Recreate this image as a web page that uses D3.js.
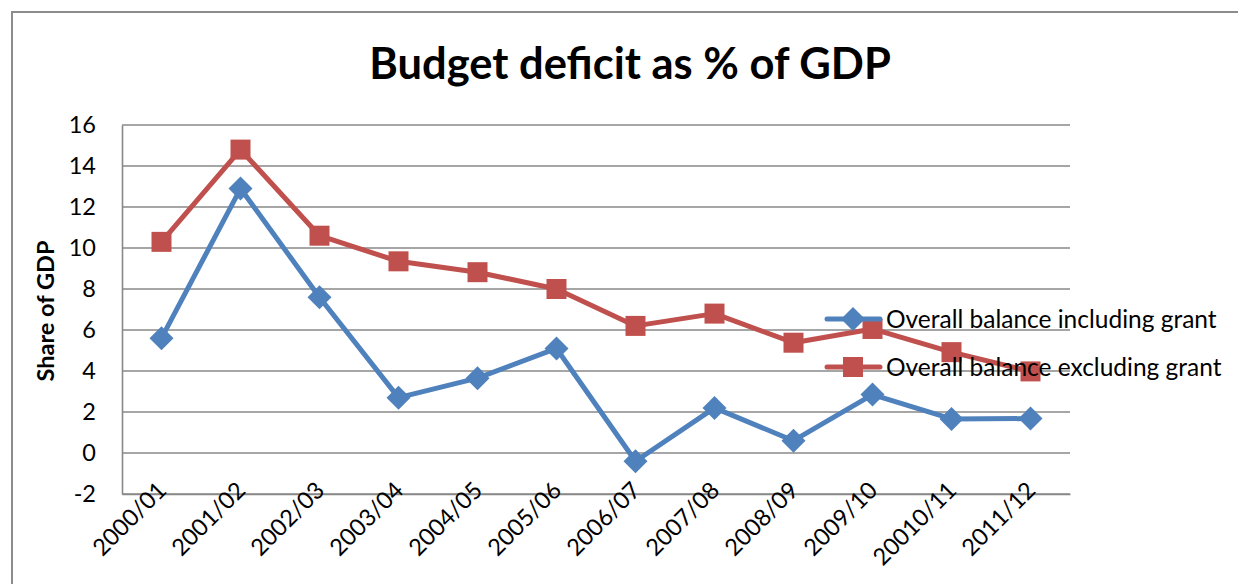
<!DOCTYPE html>
<html>
<head>
<meta charset="utf-8">
<script src="https://cdn.jsdelivr.net/npm/d3@7"></script>
<style>
  html, body { margin: 0; padding: 0; background: #fff; }
  svg { display: block; font-family: Lato, "Open Sans", sans-serif; }
</style>
</head>
<body>
<svg id="chart" width="1238" height="584"></svg>
<script>
const categories = ["2000/01","2001/02","2002/03","2003/04","2004/05","2005/06","2006/07","2007/08","2008/09","2009/10","20010/11","2011/12"];
const includingGrant = [5.6, 12.9, 7.6, 2.7, 3.65, 5.1, -0.4, 2.2, 0.6, 2.85, 1.66, 1.68];
const excludingGrant = [10.3, 14.8, 10.6, 9.35, 8.82, 8.0, 6.2, 6.8, 5.38, 6.05, 4.92, 3.98];
const yTicks = [-2, 0, 2, 4, 6, 8, 10, 12, 14, 16];
const seriesNames = ["Overall balance including grant", "Overall balance excluding grant"];
const title = "Budget deficit as % of GDP";
const yTitle = "Share of GDP";

const blue = "#4F81BD", red = "#C0504D", grid = "#888888";
const svg = d3.select("#chart");

// outer chart border
svg.append("rect").attr("x", 12).attr("y", 12).attr("width", 1300).attr("height", 700)
  .attr("fill", "none").attr("stroke", "#8c8c8c").attr("stroke-width", 2);

const plot = {left: 122, right: 1070, top: 125, bottom: 494};
const x = d3.scalePoint().domain(categories).range([plot.left, plot.right]).padding(0.5);
const y = d3.scaleLinear().domain([-2, 16]).range([plot.bottom, plot.top]);

// gridlines
svg.append("g").selectAll("line").data(yTicks).join("line")
  .attr("x1", plot.left).attr("x2", plot.right)
  .attr("y1", d => y(d)).attr("y2", d => y(d))
  .attr("stroke", grid).attr("stroke-width", 1.6);

// y axis
const yAxis = d3.axisLeft(y).tickValues(yTicks).tickSize(0).tickPadding(26).tickFormat(d => String(d));
const gy = svg.append("g").attr("transform", `translate(${plot.left},0)`).call(yAxis);
gy.select(".domain").attr("stroke", grid).attr("stroke-width", 1.6);
gy.selectAll("text").attr("font-size", 23.5).attr("fill", "#000").attr("font-family", "Lato");

// x axis labels
const xAxis = d3.axisBottom(x).tickSize(0).tickFormat(d => d);
const gx = svg.append("g").attr("transform", `translate(0,${plot.bottom})`).call(xAxis);
gx.select(".domain").attr("stroke", grid).attr("stroke-width", 1.6);
gx.selectAll("text")
  .attr("font-size", 23.5).attr("fill", "#000").attr("font-family", "Lato")
  .attr("text-anchor", "end")
  .attr("dy", "0.35em").attr("y", 0)
  .attr("transform", "translate(0,-8) rotate(-45)");

// lines
const line = d3.line().x((d, i) => x(categories[i])).y(d => y(d));
svg.append("path").datum(excludingGrant).attr("d", line)
  .attr("fill", "none").attr("stroke", red).attr("stroke-width", 5).attr("stroke-linejoin", "round");
svg.append("path").datum(includingGrant).attr("d", line)
  .attr("fill", "none").attr("stroke", blue).attr("stroke-width", 5).attr("stroke-linejoin", "round");

// markers
svg.append("g").selectAll("rect").data(excludingGrant).join("rect")
  .attr("x", (d, i) => x(categories[i]) - 10).attr("y", d => y(d) - 10)
  .attr("width", 20).attr("height", 20).attr("fill", red);
const diamond = s => `M0,${-s}L${s},0L0,${s}L${-s},0Z`;
svg.append("g").selectAll("path").data(includingGrant).join("path")
  .attr("transform", (d, i) => `translate(${x(categories[i])},${y(d)})`)
  .attr("d", diamond(12)).attr("fill", blue);

// title
svg.append("text").attr("x", 630).attr("y", 79).attr("text-anchor", "middle")
  .attr("font-size", 43.5).attr("font-weight", "bold").attr("fill", "#000").text(title);

// y title
svg.append("text").attr("transform", "translate(54,311) rotate(-90)")
  .attr("text-anchor", "middle").attr("font-size", 23.5).attr("font-weight", "bold")
  .attr("fill", "#000").text(yTitle);

// legend
const legend = svg.append("g");
const legY = [319, 367];
const colors = [blue, red];
seriesNames.forEach((name, i) => {
  const g = legend.append("g").attr("transform", `translate(0,${legY[i]})`);
  g.append("line").attr("x1", 827).attr("x2", 880).attr("stroke", colors[i]).attr("stroke-width", 5).attr("stroke-linecap", "round");
  if (i === 0) g.append("path").attr("transform", "translate(853,0)").attr("d", diamond(12)).attr("fill", blue);
  else g.append("rect").attr("x", 843).attr("y", -10).attr("width", 20).attr("height", 20).attr("fill", red);
  g.append("text").attr("x", 886).attr("dy", "0.35em").attr("font-size", 24.5).attr("fill", "#000").text(name);
});
</script>
</body>
</html>
